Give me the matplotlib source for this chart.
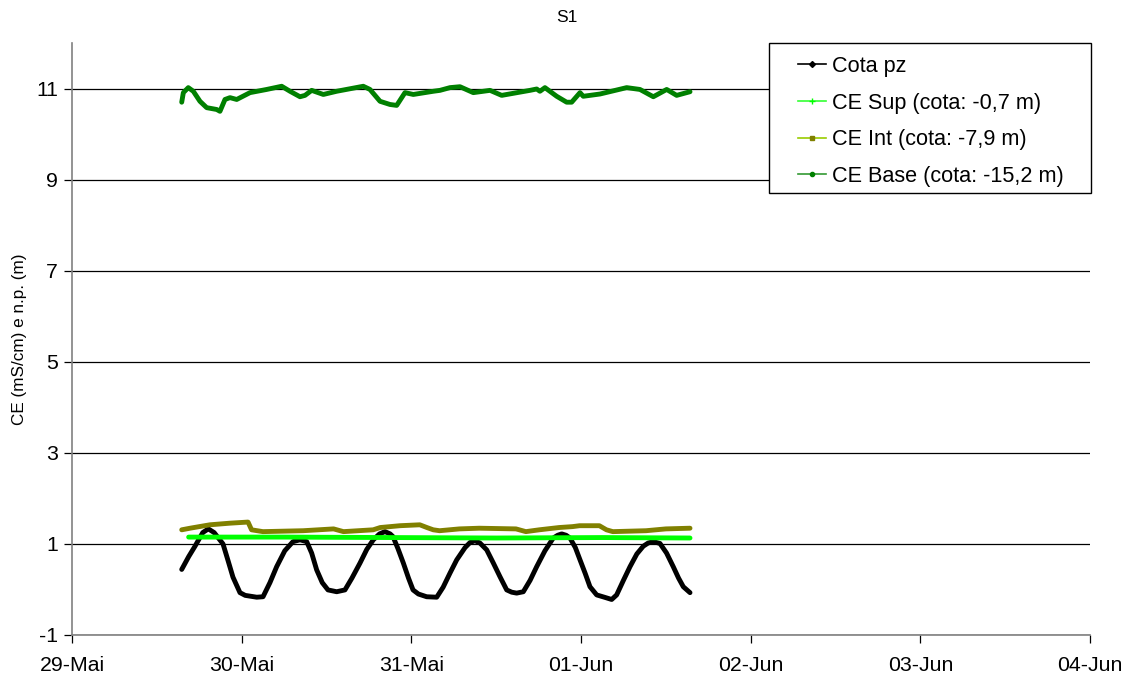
import numpy as np
import pandas as pd
import matplotlib
matplotlib.use("Agg")
import matplotlib.pyplot as plt
from matplotlib.lines import Line2D
from matplotlib.patches import Rectangle

plt.rcParams['font.family'] = ['Liberation Sans', 'DejaVu Sans']

START = pd.Timestamp("2008-05-29 00:00")

# Piezometer level (m): hours since 29-Mai 00:00 and readings
pz_hours = [15.52, 16.5, 17.4, 18.5, 19.28, 20.1, 21.36, 22.1, 22.77, 23.76,
            24.5, 26.13, 27.02, 28.0, 28.95, 30.1, 31.26, 32.25, 33.2, 33.9,
            34.61, 35.4, 36.21, 37.44, 38.61, 39.6, 40.74, 41.7, 42.62, 43.5,
            44.27, 45.0, 45.41, 46.1, 46.87, 47.6, 48.24, 49.0, 50.17, 51.59,
            52.5, 53.47, 54.42, 55.6, 56.3, 57.0, 57.7, 58.66, 59.6, 60.54,
            61.49, 62.2, 62.9, 63.84, 64.8, 65.73, 66.9, 68.08, 68.7, 69.27,
            69.9, 70.44, 71.2, 71.86, 72.6, 73.27, 74.22, 75.3, 76.34, 77.04,
            78.0, 78.93, 79.9, 80.81, 81.5, 82.23, 83.17, 84.1, 85.05, 85.8,
            86.47, 87.42]
pz_vals = [0.44, 0.72, 0.95, 1.25, 1.33, 1.25, 1.00, 0.62, 0.27, -0.07,
           -0.13, -0.17, -0.16, 0.15, 0.50, 0.85, 1.05, 1.09, 1.05, 0.80,
           0.43, 0.15, -0.01, -0.05, -0.01, 0.25, 0.58, 0.88, 1.09, 1.22,
           1.27, 1.22, 1.16, 0.90, 0.58, 0.25, -0.01, -0.10, -0.16, -0.17,
           0.05, 0.36, 0.65, 0.92, 1.03, 1.07, 1.02, 0.87, 0.58, 0.28,
           -0.01, -0.06, -0.08, -0.05, 0.20, 0.50, 0.85, 1.13, 1.19, 1.22,
           1.19, 1.13, 0.92, 0.65, 0.35, 0.06, -0.12, -0.17, -0.22, -0.12,
           0.20, 0.50, 0.78, 0.95, 1.02, 1.05, 1.01, 0.80, 0.50, 0.25,
           0.06, -0.07]

# Surface conductivity (mS/cm)
sup_hours = [16.5, 30.0, 45.0, 60.0, 75.0, 87.42]
sup_vals = [1.15, 1.15, 1.14, 1.13, 1.14, 1.13]

# Intermediate conductivity (mS/cm)
int_hours = [15.52, 16.7, 19.5, 22.3, 24.9, 25.4, 27.0, 32.7, 37.0, 38.4,
             42.6, 43.6, 46.4, 49.2, 50.2, 51.1, 52.0, 54.8, 57.6, 62.8,
             64.2, 66.1, 68.9, 70.8, 71.8, 74.6, 75.6, 76.5, 81.2, 84.0, 87.42]
int_vals = [1.31, 1.345, 1.42, 1.455, 1.48, 1.31, 1.27, 1.29, 1.33, 1.27,
            1.31, 1.36, 1.40, 1.42, 1.36, 1.31, 1.29, 1.33, 1.345, 1.33,
            1.27, 1.31, 1.36, 1.38, 1.40, 1.40, 1.31, 1.27, 1.29, 1.33, 1.345]

# Base conductivity (mS/cm)
base_hours = [15.52, 15.75, 16.45, 17.16, 18.1, 19.05, 20.47, 20.93, 21.64, 22.35,
              23.3, 25.18, 27.54, 29.66, 30.84, 32.25, 32.96, 33.9, 35.55, 37.44,
              41.2, 42.15, 43.57, 44.98, 45.93, 47.1, 48.28, 51.11, 52.05, 53.47,
              54.88, 56.76, 59.13, 60.78, 64.78, 65.73, 66.19, 66.9, 68.56, 69.97,
              70.68, 71.86, 72.32, 74.69, 78.46, 80.34, 82.23, 84.12, 85.53, 87.42]
base_vals = [10.70, 10.91, 11.02, 10.94, 10.72, 10.58, 10.54, 10.50, 10.76, 10.80,
             10.76, 10.91, 10.98, 11.05, 10.94, 10.82, 10.85, 10.96, 10.87, 10.94,
             11.05, 10.98, 10.72, 10.65, 10.63, 10.91, 10.87, 10.94, 10.96, 11.02,
             11.04, 10.91, 10.96, 10.85, 10.96, 10.99, 10.94, 11.02, 10.83, 10.70,
             10.70, 10.91, 10.83, 10.88, 11.02, 10.98, 10.82, 10.98, 10.85, 10.93]

tick_labels = ["29-Mai", "30-Mai", "31-Mai", "01-Jun", "02-Jun", "03-Jun", "04-Jun"]
y_ticks = [-1, 1, 3, 5, 7, 9, 11]

series = [
    ("Cota pz", pz_hours, pz_vals, "#000000", "#000000", "D", 3.0),
    ("CE Sup (cota: -0,7 m)", sup_hours, sup_vals, "#00FF00", "#33FF33", "+", 4.0),
    ("CE Int (cota: -7,9 m)", int_hours, int_vals, "#808000", "#99CC00", "s", 3.5),
    ("CE Base (cota: -15,2 m)", base_hours, base_vals, "#008000", "#339933", "o", 3.0),
]


def to_time(hours):
    return START + pd.to_timedelta(np.asarray(hours), unit="h")


fig = plt.figure(figsize=(11.28, 6.81), dpi=100)
ax = fig.add_axes([72 / 1128, 46 / 681, 1018 / 1128, 592 / 681])

handles = []
for name, hrs, vals, color, lcolor, marker, ms in series:
    ax.plot(to_time(hrs), vals, color=color, lw=3.5, solid_capstyle="round",
            solid_joinstyle="round", zorder=3)
    handles.append(Line2D([0], [0], color=lcolor, lw=1.2,
                          marker=marker, markersize=ms, markerfacecolor=color,
                          markeredgecolor=color, markeredgewidth=1.0))

days = [START + pd.Timedelta(days=i) for i in range(len(tick_labels))]
ax.set_xlim(days[0], days[-1])
ax.set_xticks(days)
ax.set_xticklabels(tick_labels, fontsize=15.3)
ax.set_ylim(-1, 12)
ax.set_yticks(y_ticks)
ax.set_yticklabels([str(v) for v in y_ticks], fontsize=15.3)
ax.yaxis.grid(True, color="black", lw=0.9)
ax.set_axisbelow(True)
ax.tick_params(direction="out", length=6, width=0.9, colors="black")
ax.tick_params(axis="x", pad=9)
ax.tick_params(axis="y", pad=4)

for side in ("top", "right"):
    ax.spines[side].set_visible(False)
for side in ("left", "bottom"):
    ax.spines[side].set_color("#808080")
    ax.spines[side].set_linewidth(1.2)

ax.set_ylabel("CE (mS/cm) e n.p. (m)", fontsize=12.3, labelpad=7)
fig.text(567 / 1128, 1 - 18 / 681, "S1", fontsize=12.5, ha="center", va="center")

# legend box
ax.add_patch(Rectangle((0.6847, 0.7466), 0.3163, 0.2534, transform=ax.transAxes,
                       facecolor="white", edgecolor="black", lw=1.0, zorder=4,
                       clip_on=False))
leg = ax.legend(handles, [s[0] for s in series], loc="upper left",
                bbox_to_anchor=(0.7132, 0.978), frameon=False, fontsize=15.6,
                handlelength=1.3, handletextpad=0.25, labelspacing=0.72,
                borderpad=0, borderaxespad=0)
leg.set_zorder(5)

fig.savefig("out.png", dpi=100)
